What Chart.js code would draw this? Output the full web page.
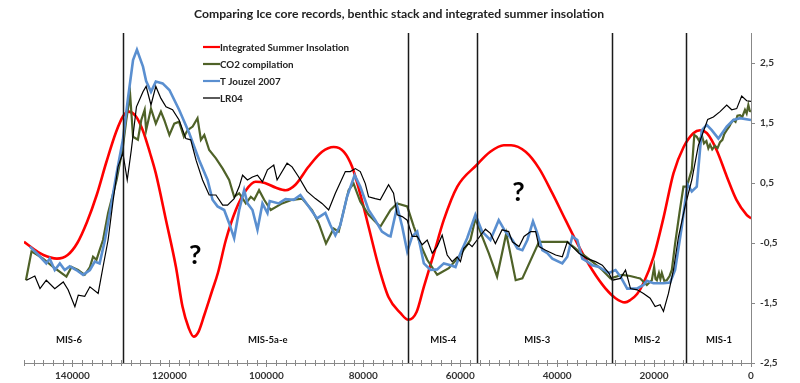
<!DOCTYPE html>
<html><head><meta charset="utf-8">
<script src="https://cdn.jsdelivr.net/npm/chart.js@4.4.1/dist/chart.umd.min.js"></script>
<style>html,body{margin:0;padding:0;background:#fff;}#wrap{width:800px;height:383px;position:relative;}</style>
</head><body><div id="wrap"><canvas id="c" width="800" height="383"></canvas></div>
<script>
const chartTitle = 'Comparing Ice core records, benthic stack and integrated summer insolation';
const seriesNames = ['Integrated Summer Insolation', 'CO2 compilation', 'T Jouzel 2007', 'LR04'];

const insolYears = [150000,148000,146000,143200,141000,139000,137000,135000,133000,131000,129500,128400,127000,125500,124000,122800,120700,118650,117300,116000,115000,114000,112800,111200,110000,108350,106300,104200,102200,100300,98000,96000,94000,91300,88500,86100,84000,82300,80300,78900,76800,74800,72300,70700,69000,67500,65400,63400,60600,56600,53800,51000,49500,46500,43700,41000,38250,35500,32750,30000,27950,26000,24900,23500,22200,20100,18000,16000,13900,11900,10500,9100,7100,5000,3000,900,0];
const insolValues = [-0.48,-0.6,-0.7,-0.76,-0.7,-0.5,-0.15,0.3,0.85,1.35,1.62,1.69,1.62,1.38,1.0,0.66,-0.12,-0.9,-1.56,-1.92,-2.06,-1.98,-1.7,-1.3,-1.0,-0.45,0.05,0.38,0.52,0.5,0.42,0.38,0.47,0.77,1.02,1.1,1.02,0.77,0.22,-0.23,-0.9,-1.4,-1.67,-1.78,-1.65,-1.23,-0.67,-0.12,0.44,0.8,1.02,1.13,1.13,1.02,0.74,0.33,-0.12,-0.56,-0.95,-1.26,-1.42,-1.49,-1.45,-1.35,-1.17,-0.73,-0.06,0.66,1.1,1.33,1.38,1.33,1.05,0.61,0.22,-0.03,-0.09];

const co2Years = [149600,148450,146050,144000,141250,140200,138850,137470,136400,135750,135050,134400,133700,132650,130900,129600,128900,128100,127500,126500,125800,125100,124800,123800,122800,121750,121060,120000,119000,118000,117000,116250,115200,114200,113500,112800,111790,110400,109000,107670,106640,105600,104235,103200,102500,101500,100450,99085,96750,94690,92630,90570,89200,87690,86100,85070,83020,82000,80620,78900,76490,74370,73000,70930,69560,68180,66810,64750,62350,60290,57890,56860,55480,54110,52390,50500,48550,47170,43740,37900,35500,32750,30690,28980,26570,24930,23480,22870,21490,20460,19980,19700,19430,19000,18700,18400,17900,17370,16800,16340,15660,14760,13940,13250,12220,11700,11190,10700,10160,9700,9200,8800,8450,8000,7420,6900,6390,5900,5500,5010,4500,4100,3640,3200,2800,2260,1800,1240,900,550,250,0];
const co2Values = [-1.12,-0.64,-0.76,-0.9,-1.06,-0.9,-0.95,-1.03,-0.9,-0.73,-0.78,-0.62,-0.45,0.0,0.55,1.1,1.55,1.97,1.27,1.22,1.55,1.72,1.38,1.74,1.49,1.69,1.55,1.3,1.49,1.52,1.27,1.38,1.44,1.58,1.22,1.3,1.05,0.91,0.74,0.55,0.27,0.33,0.16,0.27,0.22,0.38,0.22,0.05,0.16,0.22,0.24,0.05,-0.17,-0.51,-0.26,-0.31,0.38,0.49,0.19,-0.03,-0.23,0.05,0.16,0.11,-0.23,-0.53,-0.78,-1.03,-0.92,-0.73,-0.45,-0.09,-0.39,-0.67,-1.06,-0.34,-1.12,-1.09,-0.48,-0.48,-0.64,-0.81,-0.95,-1.09,-1.03,-1.05,-1.08,-1.09,-1.2,-1.12,-0.9,-1.1,-1.12,-1.0,-1.1,-1.0,-1.13,-1.12,-1.05,-0.95,-0.51,0.0,0.44,0.44,0.72,1.3,1.27,1.2,1.3,1.16,1.2,1.08,1.14,1.06,1.12,1.08,1.18,1.22,1.32,1.38,1.44,1.5,1.55,1.52,1.62,1.63,1.6,1.72,1.66,1.8,1.7,1.69];

const jouzelYears = [148800,147000,145400,144700,143650,142600,141600,140560,139200,137800,136400,135400,134400,133300,132300,130900,129600,128500,127500,126700,125450,124800,123800,122800,121400,120000,118000,115900,113850,112130,111100,110070,108700,107670,106640,105600,104580,103900,102860,101830,100800,99770,99300,97440,96060,94350,92970,91260,89540,87820,86790,85760,84730,83360,81780,80620,78900,77520,76150,74780,74370,73000,71960,70930,69900,68870,67500,66120,64750,63380,62000,60970,59950,58570,56860,55480,53770,52050,50680,49230,48200,47170,46140,44980,44080,43050,42020,40990,38930,37900,36870,35840,34810,33780,32750,31380,30350,29320,27950,26920,25540,24510,23550,22180,21490,20120,18060,16690,15660,14280,13120,12220,11190,10160,9130,8100,6730,5010,3640,2260,0];
const jouzelValues = [-0.56,-0.7,-0.84,-0.76,-0.95,-0.84,-0.95,-0.89,-0.95,-1.03,-0.95,-0.81,-0.84,-0.45,0.0,0.66,1.22,1.94,2.55,2.72,2.44,2.2,2.02,2.19,2.16,2.05,1.72,1.33,0.88,0.55,0.22,0.11,0.05,-0.17,-0.42,0.05,0.38,0.16,0.05,-0.28,0.16,0.0,0.2,0.16,0.23,0.22,0.3,0.11,-0.09,0.0,-0.2,-0.37,-0.2,0.27,0.63,0.44,0.05,-0.12,-0.31,-0.38,-0.39,0.11,-0.23,-0.64,-0.39,-0.31,-0.84,-0.95,-0.94,-0.84,-0.87,-0.9,-0.67,-0.42,-0.03,-0.31,-0.45,-0.12,-0.31,-0.45,-0.59,-0.62,-0.45,-0.14,-0.34,-0.62,-0.67,-0.76,-0.84,-0.73,-0.39,-0.45,-0.76,-0.81,-0.87,-0.9,-0.95,-1.0,-0.95,-1.06,-1.26,-1.26,-1.26,-1.2,-1.13,-1.17,-1.17,-1.16,-0.95,-0.23,0.48,0.36,0.44,1.38,1.47,1.38,1.24,1.44,1.55,1.58,1.55];

const lr04Years = [149500,147770,146700,145400,143650,141900,140900,139500,138800,137470,136400,134700,133700,132650,131600,130600,129600,128700,127860,126800,125450,124800,123800,122800,121750,120700,119350,118000,116600,115600,114500,113160,111790,110400,109000,108000,106640,105600,104900,103900,102860,101830,100800,99770,98470,97780,95720,94690,93320,91600,89880,88510,87140,85760,83700,82670,81640,80620,79580,78900,77520,76490,74780,73750,73000,71960,70930,69900,68870,67840,66810,65780,64750,63720,62690,61660,60630,59950,59260,58230,57540,56510,54800,53770,52740,51360,50000,49230,47860,46830,45460,44430,43740,42370,40310,38930,37900,36870,35500,33780,32070,30690,29320,28630,26920,25890,24860,23480,22180,20810,19780,18750,18060,17030,16000,14970,13600,12220,10850,9950,8930,7760,6390,5010,3980,2950,1920,890,0];
const lr04Values = [-1.12,-1.05,-1.26,-1.12,-1.26,-1.15,-1.28,-1.56,-1.37,-1.39,-1.23,-1.34,-0.9,-0.45,0.22,0.77,1.0,0.55,1.05,1.77,2.02,2.11,1.8,2.11,1.91,1.77,1.72,1.55,1.24,1.22,0.88,0.55,0.3,0.3,0.13,0.13,0.24,0.44,0.63,0.55,0.6,0.63,0.52,0.72,0.8,0.55,0.83,0.77,0.6,0.36,0.24,0.16,0.05,0.33,0.69,0.69,0.74,0.69,0.49,0.27,0.24,0.22,0.47,0.33,-0.03,-0.06,-0.12,-0.39,-0.39,-0.53,-0.45,-0.67,-0.56,-0.37,-0.7,-0.81,-0.73,-0.81,-0.59,-0.51,-0.56,-0.45,-0.27,-0.34,-0.51,-0.28,-0.31,-0.48,-0.56,-0.39,-0.31,-0.31,-0.56,-0.62,-0.7,-0.73,-0.48,-0.56,-0.67,-0.76,-0.81,-0.87,-1.0,-1.12,-1.09,-0.95,-1.26,-1.28,-1.34,-1.42,-1.56,-1.53,-1.64,-1.34,-0.95,-0.4,0.11,0.55,1.13,1.33,1.56,1.6,1.69,1.8,1.72,1.74,1.95,1.87,1.86];

const xTickLabels = [140000,120000,100000,80000,60000,40000,20000,0];
const yTickLabels = [-2.5,-1.5,-0.5,0.5,1.5,2.5];
const misBoundaries = [129600,70700,56600,28700,13400];
const misLabels = ['MIS-6','MIS-5a-e','MIS-4','MIS-3','MIS-2','MIS-1'];
const misLabelYears = [140700,99700,63500,44100,21400,6600];
const misLabelValue = -2.12;
const questionYears = [114700,48000];
const questionValues = [-0.7,0.35];

const pts = (xs, ys) => xs.map((x, i) => ({x: x, y: ys[i]}));
const FONT = 'Lato, "Open Sans", sans-serif';

const overlay = {
  id: 'overlay',
  afterDatasetsDraw(chart) {
    const ctx = chart.ctx, xs = chart.scales.x, ys = chart.scales.y, a = chart.chartArea;
    ctx.save();
    ctx.strokeStyle = '#1a1a1a'; ctx.lineWidth = 1.5;
    misBoundaries.forEach(b => {
      const px = Math.round(xs.getPixelForValue(b)) + 0.5;
      ctx.beginPath(); ctx.moveTo(px, a.top); ctx.lineTo(px, a.bottom); ctx.stroke();
    });
    ctx.fillStyle = '#111'; ctx.font = 'bold 9.5px ' + FONT;
    ctx.textAlign = 'center'; ctx.textBaseline = 'middle';
    misLabels.forEach((t, i) => ctx.fillText(t, xs.getPixelForValue(misLabelYears[i]), ys.getPixelForValue(misLabelValue)));
    ctx.font = 'bold 27px ' + FONT; ctx.fillStyle = '#000';
    questionYears.forEach((q, i) => ctx.fillText('?', xs.getPixelForValue(q), ys.getPixelForValue(questionValues[i])));
    ctx.strokeStyle = '#888'; ctx.lineWidth = 1;
    xs.ticks.forEach(t => {
      const px = Math.round(xs.getPixelForValue(t.value)) + 0.5;
      const major = xTickLabels.includes(t.value);
      ctx.beginPath(); ctx.moveTo(px, a.bottom - 3); ctx.lineTo(px, a.bottom + (major ? 4 : 3)); ctx.stroke();
    });
    ctx.font = 'bold 9.8px ' + FONT; ctx.textAlign = 'left'; ctx.textBaseline = 'middle';
    chart.data.datasets.forEach((ds, i) => {
      const y = 47 + i * 17;
      ctx.strokeStyle = ds.borderColor; ctx.lineWidth = (i === 3) ? 1.3 : 2.2;
      ctx.beginPath(); ctx.moveTo(203, y); ctx.lineTo(220, y); ctx.stroke();
      ctx.fillStyle = '#222'; ctx.fillText(ds.label, 220, y + 0.5);
    });
    ctx.font = 'bold 12.2px ' + FONT; ctx.textAlign = 'center'; ctx.fillStyle = '#222';
    ctx.fillText(chartTitle, 399, 14);
    ctx.restore();
  }
};

new Chart(document.getElementById('c'), {
  type: 'scatter',
  data: {
    datasets: [
      {label: seriesNames[0], data: pts(insolYears, insolValues), borderColor: '#ff0000', borderWidth: 2.6, cubicInterpolationMode: 'monotone', order: 4},
      {label: seriesNames[1], data: pts(co2Years, co2Values), borderColor: '#4f6228', borderWidth: 2.2, tension: 0, order: 3},
      {label: seriesNames[2], data: pts(jouzelYears, jouzelValues), borderColor: '#5a8fd0', borderWidth: 2.6, tension: 0, order: 2},
      {label: seriesNames[3], data: pts(lr04Years, lr04Values), borderColor: '#000000', borderWidth: 1.2, tension: 0, order: 1}
    ].map(d => Object.assign({showLine: true, pointRadius: 0, fill: false, backgroundColor: d.borderColor}, d))
  },
  options: {
    responsive: false, animation: false, devicePixelRatio: 1,
    layout: {padding: {left: 24, top: 33, right: 0, bottom: 0}},
    plugins: {legend: {display: false}, tooltip: {enabled: false}, title: {display: false}},
    scales: {
      x: {
        type: 'linear', min: 0, max: 150000, reverse: true, position: 'bottom',
        afterFit: s => { s.height = 20; },
        grid: {display: true, drawOnChartArea: false, drawTicks: true, tickLength: 4, color: 'rgba(0,0,0,0)'},
        border: {display: true, color: '#888', width: 1},
        ticks: {stepSize: 2000, autoSkip: false, maxRotation: 0, padding: 3, color: '#333',
          font: {family: FONT, weight: 'bold', size: 10},
          callback: v => xTickLabels.includes(v) ? String(v) : ''}
      },
      y: {
        type: 'linear', min: -2.5, max: 3, position: 'right',
        afterFit: s => { s.width = 49; },
        afterBuildTicks: s => { s.ticks = yTickLabels.map(v => ({value: v})); },
        grid: {display: true, drawOnChartArea: false, drawTicks: true, tickLength: 4, color: '#888'},
        border: {display: true, color: '#888', width: 1},
        ticks: {padding: 5, color: '#333', font: {family: FONT, weight: 'bold', size: 10},
          callback: v => v.toFixed(1).replace('.', ',')}
      }
    }
  },
  plugins: [overlay]
});
</script></body></html>
